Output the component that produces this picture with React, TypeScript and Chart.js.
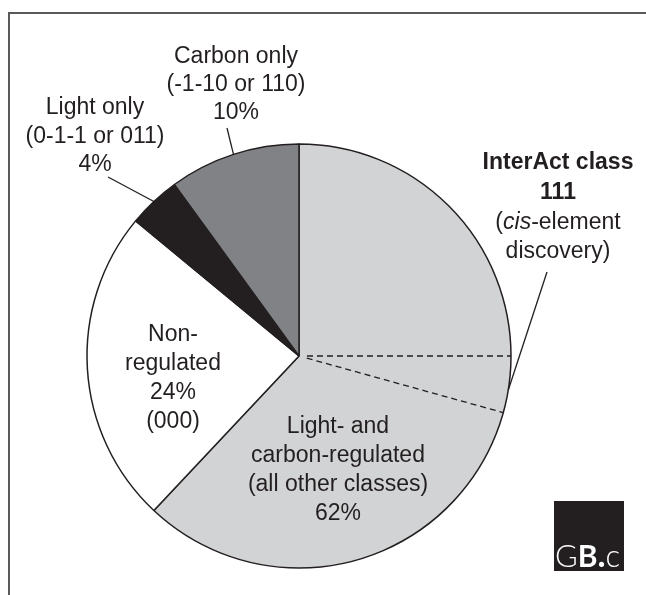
import React, { useEffect, useRef } from "react";
import { Chart, registerables } from "chart.js";

Chart.register(...registerables);

// ---------- data ----------
const categories = ["Light- and carbon-regulated", "Non-regulated", "Light only", "Carbon only"];
const shares = [62, 24, 4, 10];
const sliceColors = ["#d1d3d4", "#ffffff", "#231f20", "#808285"];
// InterAct class 111 sub-slice inside the first slice (percent of circle)
const interActStart = 25;
const interActShare = 4.3;

const labelLightCarbon = ["Light- and", "carbon-regulated", "(all other classes)", "62%"];
const labelNonReg = ["Non-", "regulated", "24%", "(000)"];
const labelLight = ["Light only", "(0-1-1 or 011)", "4%"];
const labelCarbon = ["Carbon only", "(-1-10 or 110)", "10%"];
const labelInterActBold = ["InterAct class", "111"];
const labelInterActNormal = ["discovery)"];

const FONT = "'Liberation Sans', Arial, Helvetica, sans-serif";
const INK = "#231f20";

function drawLines(ctx: CanvasRenderingContext2D, lines: string[], cx: number, y0: number, lh: number, font: string) {
  ctx.font = font;
  ctx.textAlign = "center";
  ctx.textBaseline = "middle";
  lines.forEach((t, i) => ctx.fillText(t, cx, y0 + i * lh));
}

function drawSegments(ctx: CanvasRenderingContext2D, segs: { t: string; f: string }[], cx: number, cy: number, align: "center" | "left" = "center") {
  ctx.textAlign = "left";
  let total = 0;
  segs.forEach((s) => {
    ctx.font = s.f;
    total += ctx.measureText(s.t).width;
  });
  let x = align === "center" ? cx - total / 2 : cx;
  segs.forEach((s) => {
    ctx.font = s.f;
    ctx.fillText(s.t, x, cy);
    x += ctx.measureText(s.t).width;
  });
}

const overlay = {
  id: "overlay",
  beforeDraw(chart: any) {
    const ctx: CanvasRenderingContext2D = chart.ctx;
    ctx.save();
    ctx.strokeStyle = "#58595b";
    ctx.lineWidth = 2;
    ctx.beginPath();
    ctx.moveTo(9, chart.height);
    ctx.lineTo(9, 13);
    ctx.lineTo(chart.width, 13);
    ctx.stroke();
    ctx.restore();
  },
  afterDatasetsDraw(chart: any) {
    const ctx: CanvasRenderingContext2D = chart.ctx;
    const meta = chart.getDatasetMeta(0);
    const arc0 = meta.data[0];
    const { x: cx, y: cy, outerRadius: r } = arc0.getProps(["x", "y", "outerRadius"], true);
    const base = -Math.PI / 2;
    const ang = (pct: number) => base + (2 * Math.PI * pct) / 100;
    const onArc = (a: number) => [cx + r * Math.cos(a), cy + r * Math.sin(a)];

    ctx.save();
    // dashed sub-slice for InterAct class 111
    ctx.strokeStyle = INK;
    ctx.lineWidth = 1.3;
    ctx.setLineDash([6, 4]);
    [interActStart, interActStart + interActShare].forEach((p) => {
      const a = ang(p);
      ctx.beginPath();
      ctx.moveTo(cx + 8 * Math.cos(a), cy + 8 * Math.sin(a));
      const [ex, ey] = onArc(a);
      ctx.lineTo(ex, ey);
      ctx.stroke();
    });
    ctx.setLineDash([]);

    // leader lines
    const mid = (i: number) => {
      const p = meta.data[i].getProps(["startAngle", "endAngle"], true);
      return (p.startAngle + p.endAngle) / 2;
    };
    const leader = (sx: number, sy: number, a: number) => {
      const [ex, ey] = onArc(a);
      ctx.beginPath();
      ctx.moveTo(sx, sy);
      ctx.lineTo(ex, ey);
      ctx.stroke();
    };
    ctx.lineWidth = 1.3;
    leader(227, 128, mid(3));
    leader(108, 177, mid(2));
    leader(547, 272, ang(interActStart + interActShare * 0.6));

    // labels
    ctx.fillStyle = INK;
    const normal = `23px ${FONT}`;
    const bold = `bold 23px ${FONT}`;
    const italic = `italic 23px ${FONT}`;
    drawLines(ctx, labelCarbon, 236, 57, 28, normal);
    drawLines(ctx, labelLight, 95, 108, 28.5, normal);
    drawLines(ctx, labelNonReg, 173, 335, 29, normal);
    drawLines(ctx, labelLightCarbon, 338, 427, 29, normal);
    drawLines(ctx, labelInterActBold, 558, 163, 30, bold);
    ctx.textBaseline = "middle";
    drawSegments(ctx, [
      { t: "(", f: normal },
      { t: "cis", f: italic },
      { t: "-element", f: normal },
    ], 558, 223);
    drawLines(ctx, labelInterActNormal, 558, 252, 29, normal);

    // logo
    ctx.fillStyle = INK;
    ctx.fillRect(554, 501, 70, 70);
    ctx.fillStyle = "#ffffff";
    ctx.textBaseline = "alphabetic";
    drawSegments(ctx, [
      { t: "G", f: `300 31px Lato, ${FONT}` },
      { t: "B", f: `bold 30px Lato, ${FONT}` },
      { t: ".", f: `bold 34px Lato, ${FONT}` },
      { t: "c", f: `300 31px Lato, ${FONT}` },
    ], 555, 567, "left");
    ctx.restore();
  },
};

export default function App() {
  const ref = useRef<HTMLCanvasElement>(null);
  useEffect(() => {
    if (!ref.current) return;
    const chart = new Chart(ref.current, {
      type: "pie",
      data: {
        labels: categories,
        datasets: [
          {
            data: shares,
            backgroundColor: sliceColors,
            borderColor: INK,
            borderWidth: 1.5,
            radius: 212,
          } as any,
        ],
      },
      options: {
        responsive: false,
        maintainAspectRatio: false,
        animation: false,
        layout: { padding: { left: 0, right: 48, top: 117, bottom: 0 } },
        plugins: { legend: { display: false }, tooltip: { enabled: false } },
      },
      plugins: [overlay],
    });
    return () => chart.destroy();
  }, []);
  return (
    <div style={{ position: "absolute", left: 0, top: 0, width: 646, height: 595, background: "#fff" }}>
      <canvas ref={ref} width={646} height={595} style={{ display: "block", width: 646, height: 595 }} />
    </div>
  );
}
